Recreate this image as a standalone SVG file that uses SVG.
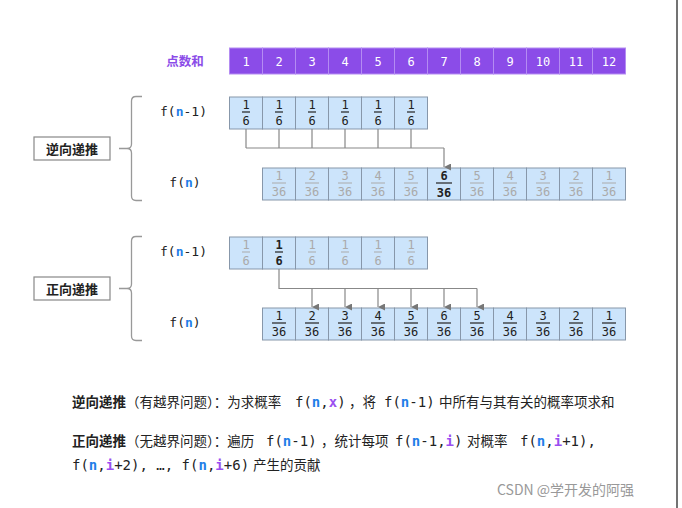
<svg xmlns="http://www.w3.org/2000/svg" width="682" height="508" viewBox="0 0 682 508">
<defs>
<marker id="arr" viewBox="0 0 8 8" refX="4" refY="8" markerWidth="7" markerHeight="7" markerUnits="userSpaceOnUse" orient="auto-start-reverse">
<path d="M0,0 L8,0 L4,8 Z" fill="#777"/>
</marker>
<style>
.hd{fill:#8B4CE8;stroke:#b48cf2;stroke-width:1}
.hn{fill:#fff;font-family:"DejaVu Sans Mono",monospace;font-size:12px;text-anchor:middle}
.cell{fill:#CCE4FB;stroke:#8797aa;stroke-width:1}
.fr{font-family:"DejaVu Sans Mono",monospace;font-size:12px;text-anchor:middle;fill:#222}
.g{fill:#aaa}
.bar{stroke:#222;stroke-width:1.2}
.gb{stroke:#aaa;stroke-width:1}
.lab{font-family:"DejaVu Sans Mono",monospace;font-size:13px;fill:#222;text-anchor:middle}
.n{fill:#1f7ee8;font-weight:bold}
.v{fill:#9b4ff0;font-weight:bold}
.box{fill:#fff;stroke:#888;stroke-width:1.2}
.bt{font-family:"Noto Sans CJK SC",sans-serif;font-size:13px;font-weight:bold;fill:#222;text-anchor:middle}
.brace{fill:none;stroke:#999;stroke-width:1.3}
.con{fill:none;stroke:#888;stroke-width:1.2}
.tx{font-family:"Noto Sans CJK SC",sans-serif;font-size:13.5px;fill:#222}
.mono{font-family:"DejaVu Sans Mono",monospace;font-size:14px}
</style>
</defs>
<rect width="682" height="508" fill="#fff"/>
<line x1="677" y1="0" x2="677" y2="508" stroke="#444" stroke-width="1.5"/>

<g id="header">
<text x="185" y="66" font-family="Noto Sans CJK SC,sans-serif" font-size="12.5" font-weight="bold" fill="#8B4CE8" text-anchor="middle">点数和</text>
<rect class="hd" x="229.5" y="48" width="33" height="26"/><text class="hn" x="246" y="65.5">1</text>
<rect class="hd" x="262.5" y="48" width="33" height="26"/><text class="hn" x="279" y="65.5">2</text>
<rect class="hd" x="295.5" y="48" width="33" height="26"/><text class="hn" x="312" y="65.5">3</text>
<rect class="hd" x="328.5" y="48" width="33" height="26"/><text class="hn" x="345" y="65.5">4</text>
<rect class="hd" x="361.5" y="48" width="33" height="26"/><text class="hn" x="378" y="65.5">5</text>
<rect class="hd" x="394.5" y="48" width="33" height="26"/><text class="hn" x="411" y="65.5">6</text>
<rect class="hd" x="427.5" y="48" width="33" height="26"/><text class="hn" x="444" y="65.5">7</text>
<rect class="hd" x="460.5" y="48" width="33" height="26"/><text class="hn" x="477" y="65.5">8</text>
<rect class="hd" x="493.5" y="48" width="33" height="26"/><text class="hn" x="510" y="65.5">9</text>
<rect class="hd" x="526.5" y="48" width="33" height="26"/><text class="hn" x="543" y="65.5">10</text>
<rect class="hd" x="559.5" y="48" width="33" height="26"/><text class="hn" x="576" y="65.5">11</text>
<rect class="hd" x="592.5" y="48" width="33" height="26"/><text class="hn" x="609" y="65.5">12</text>
</g>

<!-- Section 1: reverse -->
<g id="rev-label">
<rect class="box" x="34" y="137" width="76" height="23"/>
<text class="bt" x="72" y="153.5">逆向递推</text>
<path class="brace" d="M142,96.5 H136 Q131.5,96.5 131.5,101 V144 Q131.5,148.5 127,148.5 H119 M127,148.5 Q131.5,148.5 131.5,153 V196 Q131.5,200.5 136,200.5 H142"/>
<text class="lab" x="183.5" y="116">f(<tspan class="n">n</tspan>-1)</text>
<text class="lab" x="185" y="187">f(<tspan class="n">n</tspan>)</text>
</g>

<g id="rev-prev">
<rect class="cell" x="229.5" y="97" width="33" height="32"/><text class="fr" x="246" y="108.5">1</text><line class="bar" x1="242" y1="112" x2="250" y2="112"/><text class="fr" x="246" y="125">6</text>
<rect class="cell" x="262.5" y="97" width="33" height="32"/><text class="fr" x="279" y="108.5">1</text><line class="bar" x1="275" y1="112" x2="283" y2="112"/><text class="fr" x="279" y="125">6</text>
<rect class="cell" x="295.5" y="97" width="33" height="32"/><text class="fr" x="312" y="108.5">1</text><line class="bar" x1="308" y1="112" x2="316" y2="112"/><text class="fr" x="312" y="125">6</text>
<rect class="cell" x="328.5" y="97" width="33" height="32"/><text class="fr" x="345" y="108.5">1</text><line class="bar" x1="341" y1="112" x2="349" y2="112"/><text class="fr" x="345" y="125">6</text>
<rect class="cell" x="361.5" y="97" width="33" height="32"/><text class="fr" x="378" y="108.5">1</text><line class="bar" x1="374" y1="112" x2="382" y2="112"/><text class="fr" x="378" y="125">6</text>
<rect class="cell" x="394.5" y="97" width="33" height="32"/><text class="fr" x="411" y="108.5">1</text><line class="bar" x1="407" y1="112" x2="415" y2="112"/><text class="fr" x="411" y="125">6</text>
</g>

<g id="rev-cur">
<rect class="cell" x="262.5" y="168" width="33" height="32"/><text class="fr g" x="279" y="179.5">1</text><line class="gb" x1="272" y1="183" x2="286" y2="183"/><text class="fr g" x="279" y="196">36</text>
<rect class="cell" x="295.5" y="168" width="33" height="32"/><text class="fr g" x="312" y="179.5">2</text><line class="gb" x1="305" y1="183" x2="319" y2="183"/><text class="fr g" x="312" y="196">36</text>
<rect class="cell" x="328.5" y="168" width="33" height="32"/><text class="fr g" x="345" y="179.5">3</text><line class="gb" x1="338" y1="183" x2="352" y2="183"/><text class="fr g" x="345" y="196">36</text>
<rect class="cell" x="361.5" y="168" width="33" height="32"/><text class="fr g" x="378" y="179.5">4</text><line class="gb" x1="371" y1="183" x2="385" y2="183"/><text class="fr g" x="378" y="196">36</text>
<rect class="cell" x="394.5" y="168" width="33" height="32"/><text class="fr g" x="411" y="179.5">5</text><line class="gb" x1="404" y1="183" x2="418" y2="183"/><text class="fr g" x="411" y="196">36</text>
<rect class="cell" x="427.5" y="168" width="33" height="32"/><text class="fr" x="444" y="179.5" font-weight="bold" font-size="13">6</text><line class="bar" x1="436" y1="183" x2="452" y2="183" stroke-width="1.6"/><text class="fr" x="444" y="196.5" font-weight="bold" font-size="13">36</text>
<rect class="cell" x="460.5" y="168" width="33" height="32"/><text class="fr g" x="477" y="179.5">5</text><line class="gb" x1="470" y1="183" x2="484" y2="183"/><text class="fr g" x="477" y="196">36</text>
<rect class="cell" x="493.5" y="168" width="33" height="32"/><text class="fr g" x="510" y="179.5">4</text><line class="gb" x1="503" y1="183" x2="517" y2="183"/><text class="fr g" x="510" y="196">36</text>
<rect class="cell" x="526.5" y="168" width="33" height="32"/><text class="fr g" x="543" y="179.5">3</text><line class="gb" x1="536" y1="183" x2="550" y2="183"/><text class="fr g" x="543" y="196">36</text>
<rect class="cell" x="559.5" y="168" width="33" height="32"/><text class="fr g" x="576" y="179.5">2</text><line class="gb" x1="569" y1="183" x2="583" y2="183"/><text class="fr g" x="576" y="196">36</text>
<rect class="cell" x="592.5" y="168" width="33" height="32"/><text class="fr g" x="609" y="179.5">1</text><line class="gb" x1="602" y1="183" x2="616" y2="183"/><text class="fr g" x="609" y="196">36</text>
</g>

<!-- Section 2: forward -->
<g id="fwd-label">
<rect class="box" x="34" y="277" width="76" height="23"/>
<text class="bt" x="72" y="293.5">正向递推</text>
<path class="brace" d="M142,236.5 H136 Q131.5,236.5 131.5,241 V284 Q131.5,288.5 127,288.5 H119 M127,288.5 Q131.5,288.5 131.5,293 V336 Q131.5,340.5 136,340.5 H142"/>
<text class="lab" x="183.5" y="256">f(<tspan class="n">n</tspan>-1)</text>
<text class="lab" x="185" y="327">f(<tspan class="n">n</tspan>)</text>
</g>

<g id="fwd-prev">
<rect class="cell" x="229.5" y="237" width="33" height="32"/><text class="fr g" x="246" y="248.5">1</text><line class="gb" x1="242" y1="252" x2="250" y2="252"/><text class="fr g" x="246" y="265">6</text>
<rect class="cell" x="262.5" y="237" width="33" height="32"/><text class="fr" x="279" y="248.5" font-weight="bold">1</text><line class="bar" x1="275" y1="252" x2="283" y2="252" stroke-width="1.5"/><text class="fr" x="279" y="265" font-weight="bold">6</text>
<rect class="cell" x="295.5" y="237" width="33" height="32"/><text class="fr g" x="312" y="248.5">1</text><line class="gb" x1="308" y1="252" x2="316" y2="252"/><text class="fr g" x="312" y="265">6</text>
<rect class="cell" x="328.5" y="237" width="33" height="32"/><text class="fr g" x="345" y="248.5">1</text><line class="gb" x1="341" y1="252" x2="349" y2="252"/><text class="fr g" x="345" y="265">6</text>
<rect class="cell" x="361.5" y="237" width="33" height="32"/><text class="fr g" x="378" y="248.5">1</text><line class="gb" x1="374" y1="252" x2="382" y2="252"/><text class="fr g" x="378" y="265">6</text>
<rect class="cell" x="394.5" y="237" width="33" height="32"/><text class="fr g" x="411" y="248.5">1</text><line class="gb" x1="407" y1="252" x2="415" y2="252"/><text class="fr g" x="411" y="265">6</text>
</g>

<g id="fwd-cur">
<rect class="cell" x="262.5" y="308" width="33" height="32"/><text class="fr" x="279" y="319.5">1</text><line class="bar" x1="272" y1="323" x2="286" y2="323"/><text class="fr" x="279" y="336">36</text>
<rect class="cell" x="295.5" y="308" width="33" height="32"/><text class="fr" x="312" y="319.5">2</text><line class="bar" x1="305" y1="323" x2="319" y2="323"/><text class="fr" x="312" y="336">36</text>
<rect class="cell" x="328.5" y="308" width="33" height="32"/><text class="fr" x="345" y="319.5">3</text><line class="bar" x1="338" y1="323" x2="352" y2="323"/><text class="fr" x="345" y="336">36</text>
<rect class="cell" x="361.5" y="308" width="33" height="32"/><text class="fr" x="378" y="319.5">4</text><line class="bar" x1="371" y1="323" x2="385" y2="323"/><text class="fr" x="378" y="336">36</text>
<rect class="cell" x="394.5" y="308" width="33" height="32"/><text class="fr" x="411" y="319.5">5</text><line class="bar" x1="404" y1="323" x2="418" y2="323"/><text class="fr" x="411" y="336">36</text>
<rect class="cell" x="427.5" y="308" width="33" height="32"/><text class="fr" x="444" y="319.5">6</text><line class="bar" x1="437" y1="323" x2="451" y2="323"/><text class="fr" x="444" y="336">36</text>
<rect class="cell" x="460.5" y="308" width="33" height="32"/><text class="fr" x="477" y="319.5">5</text><line class="bar" x1="470" y1="323" x2="484" y2="323"/><text class="fr" x="477" y="336">36</text>
<rect class="cell" x="493.5" y="308" width="33" height="32"/><text class="fr" x="510" y="319.5">4</text><line class="bar" x1="503" y1="323" x2="517" y2="323"/><text class="fr" x="510" y="336">36</text>
<rect class="cell" x="526.5" y="308" width="33" height="32"/><text class="fr" x="543" y="319.5">3</text><line class="bar" x1="536" y1="323" x2="550" y2="323"/><text class="fr" x="543" y="336">36</text>
<rect class="cell" x="559.5" y="308" width="33" height="32"/><text class="fr" x="576" y="319.5">2</text><line class="bar" x1="569" y1="323" x2="583" y2="323"/><text class="fr" x="576" y="336">36</text>
<rect class="cell" x="592.5" y="308" width="33" height="32"/><text class="fr" x="609" y="319.5">1</text><line class="bar" x1="602" y1="323" x2="616" y2="323"/><text class="fr" x="609" y="336">36</text>
</g>

<g id="connectors">
<path class="con" d="M246,129 V148 M279,129 V148 M312,129 V148 M345,129 V148 M378,129 V148 M411,129 V148 M246,148 H444"/>
<path class="con" d="M444,148 V167" marker-end="url(#arr)"/>
<path class="con" d="M279,269 V288.5 H477"/>
<path class="con" d="M312,288.5 V307" marker-end="url(#arr)"/>
<path class="con" d="M345,288.5 V307" marker-end="url(#arr)"/>
<path class="con" d="M378,288.5 V307" marker-end="url(#arr)"/>
<path class="con" d="M411,288.5 V307" marker-end="url(#arr)"/>
<path class="con" d="M444,288.5 V307" marker-end="url(#arr)"/>
<path class="con" d="M477,288.5 V307" marker-end="url(#arr)"/>
</g>

<g id="notes">
<text class="tx" y="407"><tspan x="72" font-weight="bold">逆向递推</tspan>（有越界问题）：为求概率<tspan class="mono" x="295">f(<tspan class="n">n</tspan>,<tspan class="v">x</tspan>)</tspan><tspan x="349">，将</tspan><tspan class="mono" x="384">f(<tspan class="n">n</tspan>-1)</tspan><tspan x="439">中所有与其有关的概率项求和</tspan></text>
<text class="tx" y="446"><tspan x="72" font-weight="bold">正向递推</tspan>（无越界问题）：遍历<tspan class="mono" x="266">f(<tspan class="n">n</tspan>-1)</tspan><tspan x="321">，统计每项</tspan><tspan class="mono" x="395">f(<tspan class="n">n</tspan>-1,<tspan class="v">i</tspan>)</tspan><tspan x="467">对概率</tspan><tspan class="mono" x="520">f(<tspan class="n">n</tspan>,<tspan class="v">i</tspan>+1),</tspan></text>
<text class="tx" y="470"><tspan class="mono" x="72">f(<tspan class="n">n</tspan>,<tspan class="v">i</tspan>+2), …, f(<tspan class="n">n</tspan>,<tspan class="v">i</tspan>+6)</tspan><tspan x="253">产生的贡献</tspan></text>
</g>

<text x="497" y="495" font-family="Noto Sans CJK SC,sans-serif" font-size="14" fill="#999">CSDN @学开发的阿强</text>
</svg>
